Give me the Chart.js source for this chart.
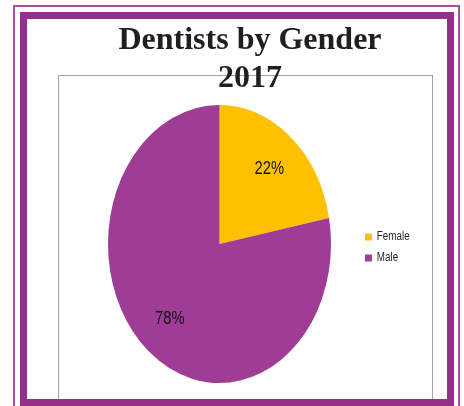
<!DOCTYPE html>
<html>
<head>
<meta charset="utf-8">
<script src="https://cdn.jsdelivr.net/npm/chart.js@4"></script>
<style>
  html, body { margin: 0; padding: 0; background: #ffffff; }
  body { width: 464px; height: 406px; position: relative; overflow: hidden; }
  .outer { position: absolute; left: 13px; top: 5px; width: 443px; height: 420px; border: 2px solid #A8509F; }
  .band { position: absolute; left: 20px; top: 12px; width: 420px; height: 380px; border: 7px solid #952F89; }
  .plot { position: absolute; left: 58px; top: 75px; width: 373px; height: 340px; border: 1px solid #A3A3A3; }
  .wrap { position: absolute; left: 0; top: 0; width: 464px; height: 406px; }
  .title { position: absolute; left: 0; top: 19px; width: 500px; text-align: center;
           font: bold 32px "Liberation Serif", "Times New Roman", serif; line-height: 38px; color: #1f1f1f; }
</style>
</head>
<body>
<div class="outer"></div>
<div class="plot"></div>
<div class="wrap"><canvas id="c" width="464" height="406"></canvas></div>
<div class="band"></div>
<div class="title">Dentists by Gender<br>2017</div>
<script>
const categories = ['Female', 'Male'];
const values = [22, 78];
const sliceColors = ['#FFC000', '#9E3C96'];

const TEXT_FONT = '"Liberation Sans", Arial, sans-serif';
const NARROW = 0.82;          // horizontal squeeze to mimic a narrow sans face
const LEGEND_DX = 26.6;
const LEGEND_DY = 3.5;

const ellipsePie = {
  id: 'ellipsePie',
  afterLayout(chart) {
    const lg = chart.legend;
    if (lg) {
      lg.left += LEGEND_DX; lg.right += LEGEND_DX;
      lg.top += LEGEND_DY; lg.bottom += LEGEND_DY;
      if (!lg._narrowWrapped) {
        const orig = lg.draw.bind(lg);
        lg.draw = function () {
          const ctx = chart.ctx;
          ctx.save();
          ctx.translate(lg.left, 0);
          ctx.scale(NARROW, 1);
          ctx.translate(-lg.left, 0);
          orig();
          ctx.restore();
        };
        lg._narrowWrapped = true;
      }
    }
  },
  beforeDatasetsDraw(chart) {
    const a = chart.chartArea, ctx = chart.ctx;
    const cx = (a.left + a.right) / 2, cy = (a.top + a.bottom) / 2;
    const k = a.height / a.width;
    ctx.save();
    ctx.translate(cx, cy);
    ctx.scale(1, k);
    ctx.translate(-cx, -cy);
  },
  afterDatasetsDraw(chart) {
    const ctx = chart.ctx;
    ctx.restore();
    const a = chart.chartArea;
    const k = a.height / a.width;
    const data = chart.data.datasets[0].data;
    const total = data.reduce((s, v) => s + v, 0);
    const meta = chart.getDatasetMeta(0);
    meta.data.forEach((arc, i) => {
      const p = arc.getProps(['x', 'y', 'startAngle', 'endAngle', 'outerRadius'], true);
      const mid = (p.startAngle + p.endAngle) / 2;
      const r = p.outerRadius * 0.7;
      const px = p.x + Math.cos(mid) * r;
      const py = p.y + Math.sin(mid) * r * k;
      ctx.save();
      ctx.translate(px, py);
      ctx.scale(NARROW, 1);
      ctx.font = '18px ' + TEXT_FONT;
      ctx.fillStyle = '#111111';
      ctx.textAlign = 'center';
      ctx.textBaseline = 'middle';
      ctx.fillText(Math.round(data[i] / total * 100) + '%', 0, 0);
      ctx.restore();
    });
  }
};

new Chart(document.getElementById('c'), {
  type: 'pie',
  data: {
    labels: categories,
    datasets: [{
      data: values,
      backgroundColor: sliceColors,
      borderWidth: 0
    }]
  },
  options: {
    responsive: false,
    animation: false,
    layout: { padding: { top: 105, bottom: 23, left: 108, right: 59.5 } },
    plugins: {
      title: { display: false },
      tooltip: { enabled: false },
      legend: {
        display: true,
        position: 'right',
        labels: {
          boxWidth: 8.5,
          boxHeight: 7,
          padding: 9,
          color: '#222222',
          font: { family: TEXT_FONT, size: 12 }
        }
      }
    }
  },
  plugins: [ellipsePie]
});
</script>
</body>
</html>
